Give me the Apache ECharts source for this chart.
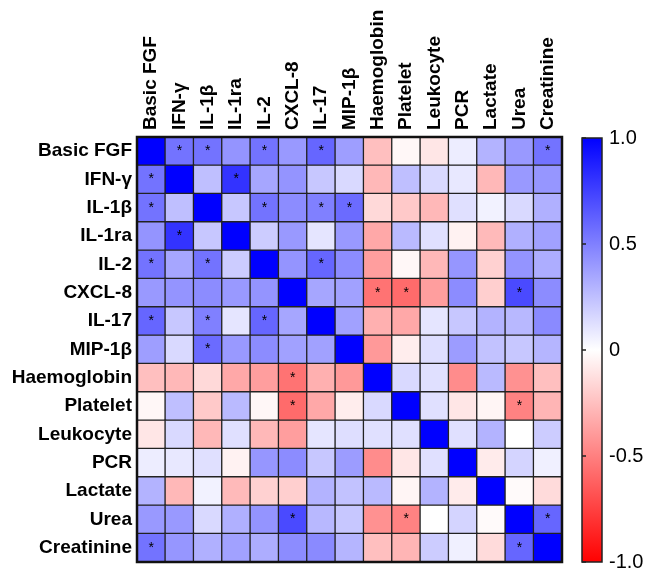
<!DOCTYPE html>
<html>
<head>
<meta charset="utf-8">
<script src="https://cdn.jsdelivr.net/npm/echarts@6/dist/echarts.min.js"></script>
<style>
  html, body { margin: 0; padding: 0; background: #fff; }
  #main { width: 649px; height: 572px; }
</style>
</head>
<body>
<div id="main"></div>
<script>
// variables, same order on both axes
var labels = ['Basic FGF', 'IFN-γ', 'IL-1β', 'IL-1ra', 'IL-2', 'CXCL-8', 'IL-17', 'MIP-1β',
              'Haemoglobin', 'Platelet', 'Leukocyte', 'PCR', 'Lactate', 'Urea', 'Creatinine'];

// correlation matrix, row by row
var corr = [
  [ 1.00,  0.55,  0.55,  0.42,  0.55,  0.40,  0.60,  0.38, -0.25, -0.03, -0.10,  0.07,  0.30,  0.40,  0.55],
  [ 0.55,  1.00,  0.25,  0.80,  0.35,  0.42,  0.22,  0.15, -0.28,  0.25,  0.15,  0.09, -0.28,  0.40,  0.41],
  [ 0.55,  0.25,  1.00,  0.22,  0.55,  0.45,  0.50,  0.58, -0.15, -0.21, -0.28,  0.12,  0.05,  0.15,  0.31],
  [ 0.42,  0.80,  0.22,  1.00,  0.20,  0.40,  0.10,  0.40, -0.34,  0.27,  0.12, -0.05, -0.27,  0.31,  0.37],
  [ 0.55,  0.35,  0.55,  0.20,  1.00,  0.42,  0.60,  0.45, -0.38, -0.03, -0.28,  0.41, -0.18,  0.42,  0.32],
  [ 0.40,  0.42,  0.45,  0.40,  0.42,  1.00,  0.35,  0.37, -0.55, -0.58, -0.38,  0.45, -0.19,  0.71,  0.45],
  [ 0.60,  0.22,  0.50,  0.10,  0.60,  0.35,  1.00,  0.37, -0.31, -0.34,  0.10,  0.22,  0.30,  0.28,  0.46],
  [ 0.38,  0.15,  0.58,  0.40,  0.45,  0.37,  0.37,  1.00, -0.40, -0.07,  0.13,  0.39,  0.24,  0.22,  0.29],
  [-0.25, -0.28, -0.15, -0.34, -0.38, -0.55, -0.31, -0.40,  1.00,  0.15,  0.12, -0.45,  0.27, -0.43, -0.25],
  [-0.03,  0.25, -0.21,  0.27, -0.03, -0.58, -0.34, -0.07,  0.15,  1.00,  0.12, -0.10, -0.04, -0.49, -0.29],
  [-0.10,  0.15, -0.28,  0.12, -0.28, -0.38,  0.10,  0.13,  0.12,  0.12,  1.00,  0.12,  0.30,  0.00,  0.20],
  [ 0.07,  0.09,  0.12, -0.05,  0.41,  0.45,  0.22,  0.39, -0.45, -0.10,  0.12,  1.00, -0.08,  0.17,  0.06],
  [ 0.30, -0.28,  0.05, -0.27, -0.18, -0.19,  0.30,  0.24,  0.27, -0.04,  0.30, -0.08,  1.00, -0.02, -0.14],
  [ 0.40,  0.40,  0.15,  0.31,  0.42,  0.71,  0.28,  0.22, -0.43, -0.49,  0.00,  0.17, -0.02,  1.00,  0.60],
  [ 0.55,  0.41,  0.31,  0.37,  0.32,  0.45,  0.46,  0.29, -0.25, -0.29,  0.20,  0.06, -0.14,  0.60,  1.00]
];

// significant cells [row, col] marked with *
var stars = [
  [0, 1], [0, 2], [0, 4], [0, 6], [0, 14],
  [1, 0], [1, 3],
  [2, 0], [2, 4], [2, 6], [2, 7],
  [3, 1],
  [4, 0], [4, 2], [4, 6],
  [5, 8], [5, 9], [5, 13],
  [6, 0], [6, 2], [6, 4],
  [7, 2],
  [8, 5],
  [9, 5], [9, 13],
  [13, 5], [13, 9], [13, 14],
  [14, 0], [14, 13]
];

var isStar = {};
stars.forEach(function (s) { isStar[s[0] + '_' + s[1]] = true; });

var cells = [];
for (var r = 0; r < corr.length; r++) {
  for (var c = 0; c < corr[r].length; c++) {
    cells.push([c, r, corr[r][c]]);
  }
}

var font = 'Liberation Sans, Arial, Helvetica, sans-serif';
var myChart = echarts.init(document.getElementById('main'));

var option = {
  backgroundColor: '#fff',
  animation: false,
  textStyle: { fontFamily: font },
  grid: [
    { left: 137, top: 137, width: 425, height: 425, show: true,
      borderColor: '#111', borderWidth: 2.5, z: 5, backgroundColor: 'transparent' },
    // colour bar
    { left: 582, top: 138, width: 20, height: 424, show: true,
      borderColor: '#222', borderWidth: 1.5,
      backgroundColor: {
        type: 'linear', x: 0, y: 0, x2: 0, y2: 1,
        colorStops: [
          { offset: 0, color: '#0000ff' },
          { offset: 0.5, color: '#ffffff' },
          { offset: 1, color: '#ff0000' }
        ]
      }
    }
  ],
  xAxis: [
    { type: 'category', data: labels, position: 'top', gridIndex: 0,
      axisLine: { show: false }, axisTick: { show: false }, splitLine: { show: false },
      axisLabel: { rotate: -90, margin: 7, fontSize: 19, fontWeight: 'bold', color: '#000', interval: 0 } },
    { type: 'value', gridIndex: 1, show: false, min: 0, max: 1 }
  ],
  yAxis: [
    { type: 'category', data: labels, inverse: true, gridIndex: 0,
      axisLine: { show: false }, axisTick: { show: false }, splitLine: { show: false },
      axisLabel: { margin: 5, fontSize: 19, fontWeight: 'bold', color: '#000', interval: 0 } },
    { type: 'value', gridIndex: 1, position: 'right', min: -1, max: 1, interval: 0.5,
      splitLine: { show: false },
      axisLine: { show: false },
      axisTick: { show: true, length: 4, lineStyle: { color: '#222', width: 1.5 } },
      axisLabel: { margin: 7, fontSize: 20, color: '#000',
        formatter: function (v) { return v === 0 ? '0' : v.toFixed(1); } } }
  ],
  visualMap: {
    show: false, min: -1, max: 1, seriesIndex: 0, dimension: 2,
    inRange: { color: ['#ff0000', '#ffffff', '#0000ff'] }
  },
  series: [{
    type: 'heatmap',
    xAxisIndex: 0, yAxisIndex: 0,
    data: cells,
    itemStyle: { borderColor: '#222', borderWidth: 1.3 },
    label: {
      show: true, color: '#000', fontSize: 14,
      formatter: function (p) { return isStar[p.data[1] + '_' + p.data[0]] ? '*' : ''; }
    },
    emphasis: { disabled: true }
  }]
};

myChart.setOption(option);
</script>
</body>
</html>
